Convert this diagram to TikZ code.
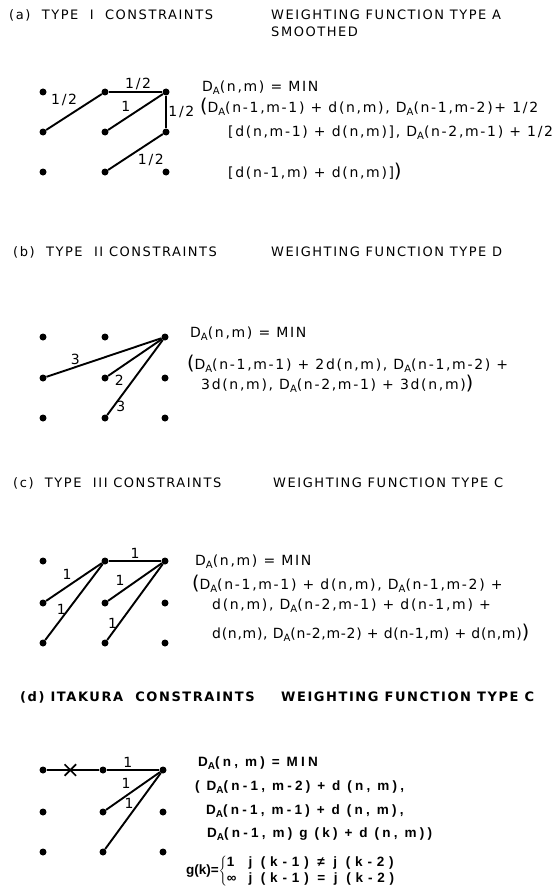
\documentclass[tikz,border=0pt]{standalone}
\usepackage{fontspec}
\setmainfont{DejaVu Sans}
\newfontfamily\eqfont[LetterSpace=12]{DejaVu Sans}
\newfontfamily\eqtightfont[LetterSpace=5]{DejaVu Sans}
\newfontfamily\eqboldfont[LetterSpace=24]{Liberation Sans Bold}
\newfontfamily\gkfont[LetterSpace=36]{Liberation Sans Bold}
\newfontfamily\hdfont[LetterSpace=12]{DejaVu Sans}
\newfontfamily\hdboldfont[LetterSpace=12]{DejaVu Sans Bold}
\usetikzlibrary{shapes.misc, positioning}
\newcommand{\DA}{D\raisebox{-0.4ex}{\fontsize{10}{10}\selectfont A}}
\newcommand{\bigpar}[1]{{\fontsize{19}{19}\selectfont #1}}

\begin{document}
\begin{tikzpicture}[
	x=1pt, y=-1pt,
	dot/.style={circle, fill=black, inner sep=0pt, minimum size=7pt},
	edge/.style={line width=1.9pt},
	lbl/.style={font=\eqfont\fontsize{14}{14}\selectfont, inner sep=1.5pt},
	title/.style={anchor=west, inner sep=0pt, font=\hdfont\fontsize{13}{15}\selectfont},
	boldtitle/.style={title, font=\hdboldfont\fontsize{13}{15}\selectfont},
	eq/.style={anchor=west, inner sep=0pt, font=\eqfont\fontsize{14}{16}\selectfont},
	boldeq/.style={anchor=west, inner sep=0pt, font=\eqboldfont\fontsize{13.5}{16}\selectfont},
	cross/.style={cross out, draw=black, line width=1.6pt, minimum size=10pt, inner sep=0pt}
]
\useasboundingbox (0,0) rectangle (557,888);

% Titles
\node[title] (ta) at (9,15) {(a)~~TYPE~~I~~CONSTRAINTS};
\node[title] (wa) at (271,15) {WEIGHTING FUNCTION TYPE A};
\node[title] (sa) at (271,32) {SMOOTHED};
\node[title] (tb) at (13,252) {(b)~~TYPE~~II~CONSTRAINTS};
\node[title] (wb) at (271,252) {WEIGHTING FUNCTION TYPE D};
\node[title] (tc) at (13,483) {(c)~~TYPE~~III~CONSTRAINTS};
\node[title] (wc) at (273,483) {WEIGHTING FUNCTION TYPE C};
\node[boldtitle] (td) at (20,697) {(d)~ITAKURA~~CONSTRAINTS};
\node[boldtitle] (wd) at (281,697) {WEIGHTING FUNCTION TYPE C};

% Grids of points
\foreach \i/\x in {0/43,1/105,2/166}
	\foreach \j/\y in {0/92,1/132,2/172}
		\node[dot] (a\i\j) at (\x,\y) {};
\foreach \i/\x in {0/43,1/105,2/165}
	\foreach \j/\y in {0/337,1/378,2/418}
		\node[dot] (b\i\j) at (\x,\y) {};
\foreach \i/\x in {0/43,1/105,2/165}
	\foreach \j/\y in {0/561,1/603,2/643}
		\node[dot] (c\i\j) at (\x,\y) {};
\foreach \i/\x in {0/43,1/103,2/163}
	\foreach \j/\y in {0/770,1/812,2/852}
		\node[dot] (d\i\j) at (\x,\y) {};

% (a) paths
\draw[edge] (a10) -- node[lbl, above, pos=.55] {1/2} (a20);
\draw[edge] (a01) -- node[lbl, above left, pos=.6] {1/2} (a10);
\draw[edge] (a11) -- node[lbl, above left, pos=.45] {1} (a20);
\draw[edge] (a20) -- node[lbl, right] {1/2} (a21);
\draw[edge] (a12) -- node[lbl, below right, pos=.5] {1/2} (a21);

% (b) paths
\draw[edge] (b01) -- node[lbl, above, pos=.25] {3} (b20);
\draw[edge] (b11) -- node[lbl, below right, pos=.08] {2} (b20);
\draw[edge] (b12) -- node[lbl, right, pos=.12] {3} (b20);

% (c) paths
\draw[edge] (c10) -- node[lbl, above] {1} (c20);
\draw[edge] (c01) -- node[lbl, above left, pos=.5] {1} (c10);
\draw[edge] (c02) -- node[lbl, left, pos=.4] {1} (c10);
\draw[edge] (c11) -- node[lbl, above left, pos=.35] {1} (c20);
\draw[edge] (c12) -- node[lbl, left, pos=.22] {1} (c20);

% (d) paths
\draw[edge] (d00) -- node[cross, pos=.45] (x) {} (d10);
\draw[edge] (d10) -- node[lbl, above, pos=.4] {1} (d20);
\draw[edge] (d11) -- node[lbl, above left, pos=.5] {1} (d20);
\draw[edge] (d12) -- node[lbl, left, pos=.6, inner sep=4pt] {1} (d20);

% (a) recursion
\node[eq] (ea1) at (202,88) {\DA(n,m) = MIN};
\node[eq] (ea2) at (200,107) {\bigpar{(}\DA(n-1,m-1) + d(n,m), \DA(n-1,m-2)+ 1/2};
\node[eq] (ea3) at (228,133) {[d(n,m-1) + d(n,m)], \DA(n-2,m-1) + 1/2};
\node[eq] (ea4) at (228,172) {[d(n-1,m) + d(n,m)]\bigpar{)}};

% (b) recursion
\node[eq] (eb1) at (190,334) {\DA(n,m) = MIN};
\node[eq] (eb2) at (187,364) {\bigpar{(}\DA(n-1,m-1) + 2d(n,m), \DA(n-1,m-2) +};
\node[eq] (eb3) at (201,384) {3d(n,m), \DA(n-2,m-1) + 3d(n,m)\bigpar{)}};

% (c) recursion
\node[eq] (ec1) at (195,562) {\DA(n,m) = MIN};
\node[eq] (ec2) at (192,584) {\bigpar{(}\DA(n-1,m-1) + d(n,m), \DA(n-1,m-2) +};
\node[eq] (ec3) at (212,606) {d(n,m), \DA(n-2,m-1) + d(n-1,m) +};
\node[eq, font=\eqtightfont\fontsize{14}{16}\selectfont] (ec4) at (212,633) {d(n,m), \DA(n-2,m-2) + d(n-1,m) + d(n,m)\bigpar{)}};

% (d) recursion
\node[boldeq] (ed1) at (198,763) {\DA (n, m) = MIN};
\node[boldeq] (ed2) at (195,787) {( \DA (n-1, m-2) + d (n, m),};
\node[boldeq] (ed3) at (206,811) {\DA (n-1, m-1) + d (n, m),};
\node[boldeq] (ed4) at (207,834) {\DA (n-1, m) g (k) + d (n, m))};
\node[boldeq, font=\bfseries\fontsize{13.5}{16}\selectfont] (gk) at (186,871) {\fontspec{Liberation Sans Bold}g(k)=$\left\{\begin{tabular}{@{}l@{\hspace{12pt}}l@{}}1 & \gkfont j (k-1) ≠ j (k-2)\\[0pt] ∞ & \gkfont j (k-1) = j (k-2)\end{tabular}\right.$};

\end{tikzpicture}
\end{document}
